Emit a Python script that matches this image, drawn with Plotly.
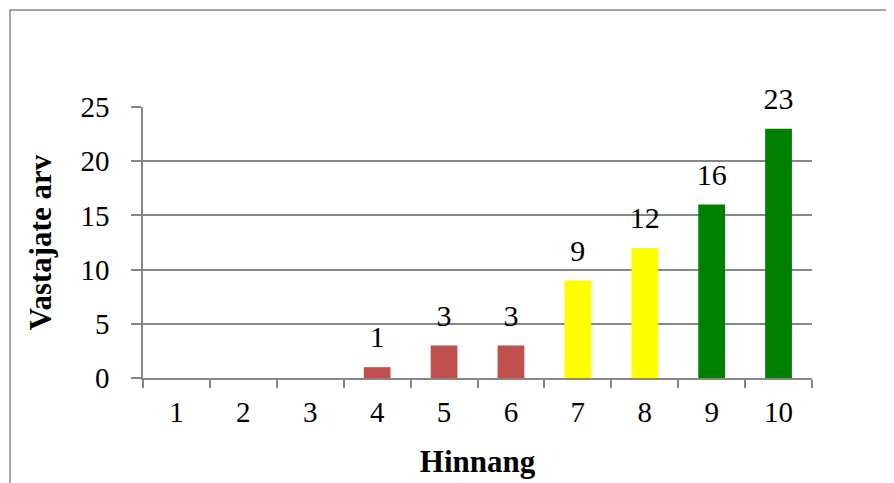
import plotly.graph_objects as go

categories = ["1", "2", "3", "4", "5", "6", "7", "8", "9", "10"]
values = [0, 0, 0, 1, 3, 3, 9, 12, 16, 23]
labels = ["", "", "", "1", "3", "3", "9", "12", "16", "23"]
colors = ["#C0504D", "#C0504D", "#C0504D", "#C0504D", "#C0504D", "#C0504D",
          "#FFFF00", "#FFFF00", "#008000", "#008000"]
y_ticks = [0, 5, 10, 15, 20, 25]

OFF = 8  # page body margin
W, H = 894 - OFF, 483 - OFF
L, R, T, B = 143 - OFF, 82, 107 - OFF, 105
pw, ph = W - L - R, H - T - B
FONT = "Liberation Serif, Times New Roman, serif"
GRAY = "#868686"

fig = go.Figure()
fig.add_trace(go.Bar(
    x=categories, y=values, marker=dict(color=colors, line=dict(width=0)),
))
fig.add_trace(go.Scatter(
    x=categories, y=values, text=labels, mode="markers+text",
    textposition="top center", cliponaxis=False, hoverinfo="skip",
    marker=dict(size=18, color="rgba(0,0,0,0)"),
    textfont=dict(family=FONT, size=30, color="black"),
))

fig.update_layout(
    width=W, height=H, margin=dict(l=L, r=R, t=T, b=B, autoexpand=False),
    paper_bgcolor="white", plot_bgcolor="white",
    bargap=0.6, showlegend=False,
    font=dict(family=FONT, size=29, color="black"),
    xaxis=dict(type="category", range=[-0.5, len(categories) - 0.5],
               tickson="boundaries", ticks="outside", ticklen=8,
               tickcolor=GRAY, tickwidth=1.5, showline=True, linecolor=GRAY, linewidth=1.5,
               showgrid=False, tickfont=dict(family=FONT, size=29), ticklabelstandoff=7,
               title=dict(text="<b>Hinnang</b>", font=dict(family=FONT, size=31), standoff=24)),
    yaxis=dict(range=[0, 25], tickvals=y_ticks, ticks="outside", ticklen=10,
               tickcolor=GRAY, tickwidth=1.5, showline=True, linecolor=GRAY, linewidth=1.5,
               showgrid=True, gridcolor=GRAY, gridwidth=1.5, zeroline=False,
               tickfont=dict(family=FONT, size=29), ticklabelstandoff=16,
               title=dict(text="<b>Vastajate arv</b>", font=dict(family=FONT, size=31), standoff=20)),
)

fig.add_shape(type="rect", xref="paper", yref="paper",
              x0=(10 - OFF - L) / pw, x1=(W + 5 - L) / pw,
              y0=-(H + 5 - T - ph) / ph, y1=(H - (10 - OFF) - B) / ph,
              line=dict(color=GRAY, width=1.5), layer="below")

fig.write_html("out.html")
